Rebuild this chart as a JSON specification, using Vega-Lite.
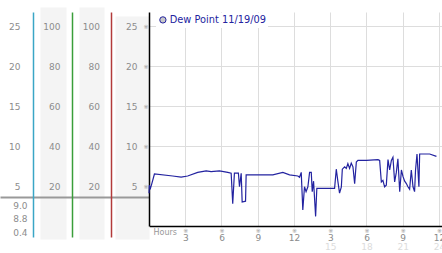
{
  "$schema": "https://vega.github.io/schema/vega-lite/v6.json",
  "autosize": {"type": "none"},
  "padding": {"left": 149, "top": 12, "right": 0, "bottom": 27},
  "width": 293,
  "height": 214,
  "background": "white",
  "datasets": {
    "dew": [
      {"hour": 0.0, "dew": 4.1}, {"hour": 0.03, "dew": 5.1}, {"hour": 0.12, "dew": 4.7}, {"hour": 0.2, "dew": 5.1},
      {"hour": 0.45, "dew": 6.5}, {"hour": 1.96, "dew": 6.25}, {"hour": 2.66, "dew": 6.1}, {"hour": 3.2, "dew": 6.25},
      {"hour": 4.03, "dew": 6.7}, {"hour": 4.73, "dew": 6.9}, {"hour": 5.14, "dew": 6.8}, {"hour": 5.83, "dew": 6.9},
      {"hour": 6.52, "dew": 6.7}, {"hour": 6.8, "dew": 6.6}, {"hour": 6.93, "dew": 2.8}, {"hour": 7.07, "dew": 6.6},
      {"hour": 7.4, "dew": 6.6}, {"hour": 7.49, "dew": 4.9}, {"hour": 7.63, "dew": 6.6}, {"hour": 7.71, "dew": 3.0},
      {"hour": 7.99, "dew": 3.1}, {"hour": 8.04, "dew": 6.4}, {"hour": 10.25, "dew": 6.4}, {"hour": 11.08, "dew": 6.7},
      {"hour": 11.63, "dew": 6.4}, {"hour": 12.32, "dew": 6.25}, {"hour": 12.46, "dew": 6.1}, {"hour": 12.6, "dew": 6.7},
      {"hour": 12.73, "dew": 2.0}, {"hour": 12.87, "dew": 4.9}, {"hour": 13.0, "dew": 4.3}, {"hour": 13.15, "dew": 4.9},
      {"hour": 13.29, "dew": 6.7}, {"hour": 13.43, "dew": 6.7}, {"hour": 13.51, "dew": 4.3}, {"hour": 13.62, "dew": 5.6},
      {"hour": 13.79, "dew": 1.2}, {"hour": 13.89, "dew": 4.7}, {"hour": 14.39, "dew": 4.7}, {"hour": 15.36, "dew": 4.7},
      {"hour": 15.5, "dew": 7.1}, {"hour": 15.63, "dew": 5.6}, {"hour": 15.77, "dew": 4.1}, {"hour": 15.92, "dew": 4.9},
      {"hour": 16.0, "dew": 7.1}, {"hour": 16.19, "dew": 7.4}, {"hour": 16.33, "dew": 7.2}, {"hour": 16.46, "dew": 7.8},
      {"hour": 16.6, "dew": 7.2}, {"hour": 16.74, "dew": 7.85}, {"hour": 16.88, "dew": 7.4}, {"hour": 17.02, "dew": 5.3},
      {"hour": 17.16, "dew": 8.0}, {"hour": 17.29, "dew": 8.2}, {"hour": 17.99, "dew": 8.2}, {"hour": 18.95, "dew": 8.3},
      {"hour": 19.09, "dew": 8.2}, {"hour": 19.23, "dew": 5.5}, {"hour": 19.36, "dew": 5.7}, {"hour": 19.5, "dew": 4.9},
      {"hour": 19.64, "dew": 5.1}, {"hour": 19.78, "dew": 8.3}, {"hour": 19.92, "dew": 7.0}, {"hour": 20.06, "dew": 8.2},
      {"hour": 20.19, "dew": 8.6}, {"hour": 20.33, "dew": 5.5}, {"hour": 20.47, "dew": 6.7}, {"hour": 20.6, "dew": 8.4},
      {"hour": 20.75, "dew": 4.3}, {"hour": 20.89, "dew": 7.0}, {"hour": 21.02, "dew": 6.2}, {"hour": 21.16, "dew": 5.6},
      {"hour": 21.3, "dew": 5.3}, {"hour": 21.43, "dew": 4.9}, {"hour": 21.57, "dew": 4.6}, {"hour": 21.71, "dew": 7.0},
      {"hour": 21.85, "dew": 4.9}, {"hour": 21.98, "dew": 4.3}, {"hour": 22.06, "dew": 7.0}, {"hour": 22.18, "dew": 9.0},
      {"hour": 22.34, "dew": 4.9}, {"hour": 22.4, "dew": 9.0}, {"hour": 22.68, "dew": 9.0}, {"hour": 23.23, "dew": 9.0},
      {"hour": 23.79, "dew": 8.7}
    ],
    "stats": [{"stat": "9.0"}, {"stat": "8.8"}, {"stat": "0.4"}],
    "guide": [{"kind": "guide"}]
  },
  "layer": [
    {
      "data": {"name": "guide"},
      "mark": {"type": "rule", "opacity": 0},
      "encoding": {
        "y": {"datum": 0.5, "type": "quantitative", "scale": {"domain": [0, 1], "range": [227, -5], "nice": false, "zero": false},
          "axis": {"orient": "left", "offset": 96, "labels": false, "ticks": false, "grid": false, "domainColor": "#f4f4f4", "domainWidth": 26, "title": null}}
      }
    },
    {
      "data": {"name": "guide"},
      "mark": {"type": "rule", "opacity": 0},
      "encoding": {
        "y": {"datum": 0.5, "type": "quantitative", "scale": {"domain": [0, 1], "range": [227, -5], "nice": false, "zero": false},
          "axis": {"orient": "left", "offset": 57.5, "labels": false, "ticks": false, "grid": false, "domainColor": "#f4f4f4", "domainWidth": 25, "title": null}}
      }
    },
    {
      "data": {"name": "guide"},
      "mark": {"type": "rule", "opacity": 0},
      "encoding": {
        "y": {"datum": 0.5, "type": "quantitative", "scale": {"domain": [0, 1], "range": [227, 4], "nice": false, "zero": false},
          "axis": {"orient": "left", "offset": 17, "labels": false, "ticks": false, "grid": false, "domainColor": "#f4f4f4", "domainWidth": 34, "title": null}}
      }
    },
    {
      "data": {"name": "guide"},
      "mark": {"type": "rule", "opacity": 0},
      "encoding": {
        "y": {"datum": 3.625, "type": "quantitative", "scale": {"domain": [-1.375, 26.75], "range": [225, 0], "nice": false, "zero": false},
          "axis": {"orient": "left", "offset": 0, "values": [3.625], "labels": false, "domain": false, "grid": false,
            "ticks": true, "tickSize": 149, "tickWidth": 2, "tickColor": "#999999", "title": null}}
      }
    },
    {
      "data": {"name": "guide"},
      "mark": {"type": "rule", "opacity": 0},
      "encoding": {
        "y": {"datum": 5, "type": "quantitative", "scale": {"domain": [-1.375, 26.75], "range": [225, 0], "nice": false, "zero": false},
          "axis": {"orient": "left", "offset": 116, "values": [5, 10, 15, 20, 25], "labelPadding": 13, "ticks": false, "grid": false,
            "domainColor": "#3aa6c6", "domainWidth": 1.5, "title": null}}
      }
    },
    {
      "data": {"name": "guide"},
      "mark": {"type": "rule", "opacity": 0},
      "encoding": {
        "y": {"datum": 20, "type": "quantitative", "scale": {"domain": [-5.5, 107], "range": [225, 0], "nice": false, "zero": false},
          "axis": {"orient": "left", "offset": 77, "values": [20, 40, 60, 80, 100], "labelPadding": 12, "ticks": false, "grid": false,
            "domainColor": "#3a9e3a", "domainWidth": 1.5, "title": null}}
      }
    },
    {
      "data": {"name": "guide"},
      "mark": {"type": "rule", "opacity": 0},
      "encoding": {
        "y": {"datum": 20, "type": "quantitative", "scale": {"domain": [-5.5, 107], "range": [225, 0], "nice": false, "zero": false},
          "axis": {"orient": "left", "offset": 38, "values": [20, 40, 60, 80, 100], "labelPadding": 11.5, "ticks": false, "grid": false,
            "domainColor": "#b23a3a", "domainWidth": 1.5, "title": null}}
      }
    },
    {
      "data": {"name": "guide"},
      "mark": {"type": "rule", "opacity": 0},
      "encoding": {
        "y": {"datum": 5, "type": "quantitative", "scale": {"domain": [-1.375, 26.75], "range": [225, 0], "nice": false, "zero": false},
          "axis": {"orient": "left", "offset": 0, "values": [5, 10, 15, 20, 25], "labelPadding": 12, "ticks": false, "grid": false, "domain": false, "title": null}}
      }
    },
    {
      "data": {"name": "guide"},
      "mark": {"type": "rule", "opacity": 0},
      "encoding": {
        "y": {"datum": 5, "type": "quantitative", "scale": {"domain": [-1.375, 26.75], "range": [225, 0], "nice": false, "zero": false},
          "axis": {"orient": "left", "offset": 0, "values": [5, 10, 15, 20, 25], "labelExpr": "'※'", "labelFontSize": 6, "labelColor": "#999999",
            "labelPadding": 1, "ticks": false, "grid": false, "domain": false, "title": null}}
      }
    },
    {
      "data": {"name": "stats"},
      "mark": {"type": "rule", "opacity": 0},
      "encoding": {
        "y": {"field": "stat", "type": "ordinal", "sort": null, "scale": {"type": "point", "range": [193, 220], "padding": 0},
          "axis": {"orient": "left", "offset": 122, "labelPadding": 0, "ticks": false, "grid": false, "domain": false, "title": null}}
      }
    },
    {
      "data": {"name": "dew"},
      "mark": {"type": "line", "strokeWidth": 1.2, "interpolate": "linear"},
      "encoding": {
        "x": {"field": "hour", "type": "quantitative",
          "scale": {"domain": [0, 24.25], "nice": false, "zero": false},
          "axis": {"orient": "bottom", "values": [3, 6, 9, 12, 15, 18, 21, 24], "labelExpr": "'※'", "labelFontSize": 6, "labelColor": "#999999",
            "labelPadding": 1.5, "domainColor": "#000000", "domainWidth": 1.5, "grid": true, "gridColor": "#dddddd", "ticks": false, "title": null}},
        "y": {"field": "dew", "type": "quantitative",
          "scale": {"domain": [0, 26.75], "nice": false, "zero": false},
          "axis": {"orient": "left", "values": [5, 10, 15, 20, 25], "labels": false, "ticks": false, "domainColor": "#000000", "domainWidth": 1.5,
            "grid": true, "gridColor": "#dddddd", "title": null}},
        "color": {"datum": "Dew Point 11/19/09", "type": "nominal",
          "scale": {"range": ["#2323a0"]},
          "legend": {"orient": "none", "legendX": 7, "legendY": 1, "title": null, "padding": 2, "fillColor": "white",
            "symbolType": "circle", "symbolSize": 40, "labelColor": "#2323a0", "labelFont": "DejaVu Sans", "labelFontSize": 9.8, "labelOffset": 2,
            "encode": {"symbols": {"update": {"fill": {"value": "#c8c8c8"}, "stroke": {"value": "#8a8a8a"}, "strokeWidth": {"value": 1}, "opacity": {"value": 1}}}}}}
      }
    },
    {
      "data": {"name": "dew"},
      "mark": {"type": "line", "opacity": 0},
      "encoding": {
        "x": {"field": "hour", "type": "quantitative",
          "axis": {"orient": "bottom", "values": [3, 6, 9, 12, 15, 18, 21, 24], "labelExpr": "datum.value > 12 ? datum.value - 12 : datum.value",
            "labelColor": "#8a8a8a", "labelPadding": 7.5, "domain": false, "grid": false, "ticks": false,
            "title": "Hours", "titleAnchor": "start", "titleAlign": "left", "titleBaseline": "middle", "titleX": 4, "titleY": 6,
            "titleColor": "#999999", "titleFont": "DejaVu Sans", "titleFontSize": 8, "titleFontWeight": "normal"}},
        "y": {"field": "dew", "type": "quantitative", "axis": null}
      }
    },
    {
      "data": {"name": "dew"},
      "mark": {"type": "line", "opacity": 0},
      "encoding": {
        "x": {"field": "hour", "type": "quantitative",
          "axis": {"orient": "bottom", "values": [15, 18, 21, 24], "labelColor": "#dcdcdc", "labelPadding": 16.5, "domain": false, "grid": false, "ticks": false, "title": null}},
        "y": {"field": "dew", "type": "quantitative", "axis": null}
      }
    }
  ],
  "resolve": {"scale": {"y": "independent"}, "axis": {"x": "independent", "y": "independent"}},
  "config": {
    "view": {"stroke": null},
    "font": "DejaVu Sans",
    "axis": {"labelFont": "DejaVu Sans", "labelFontSize": 9, "labelColor": "#8c8c8c"}
  }
}
